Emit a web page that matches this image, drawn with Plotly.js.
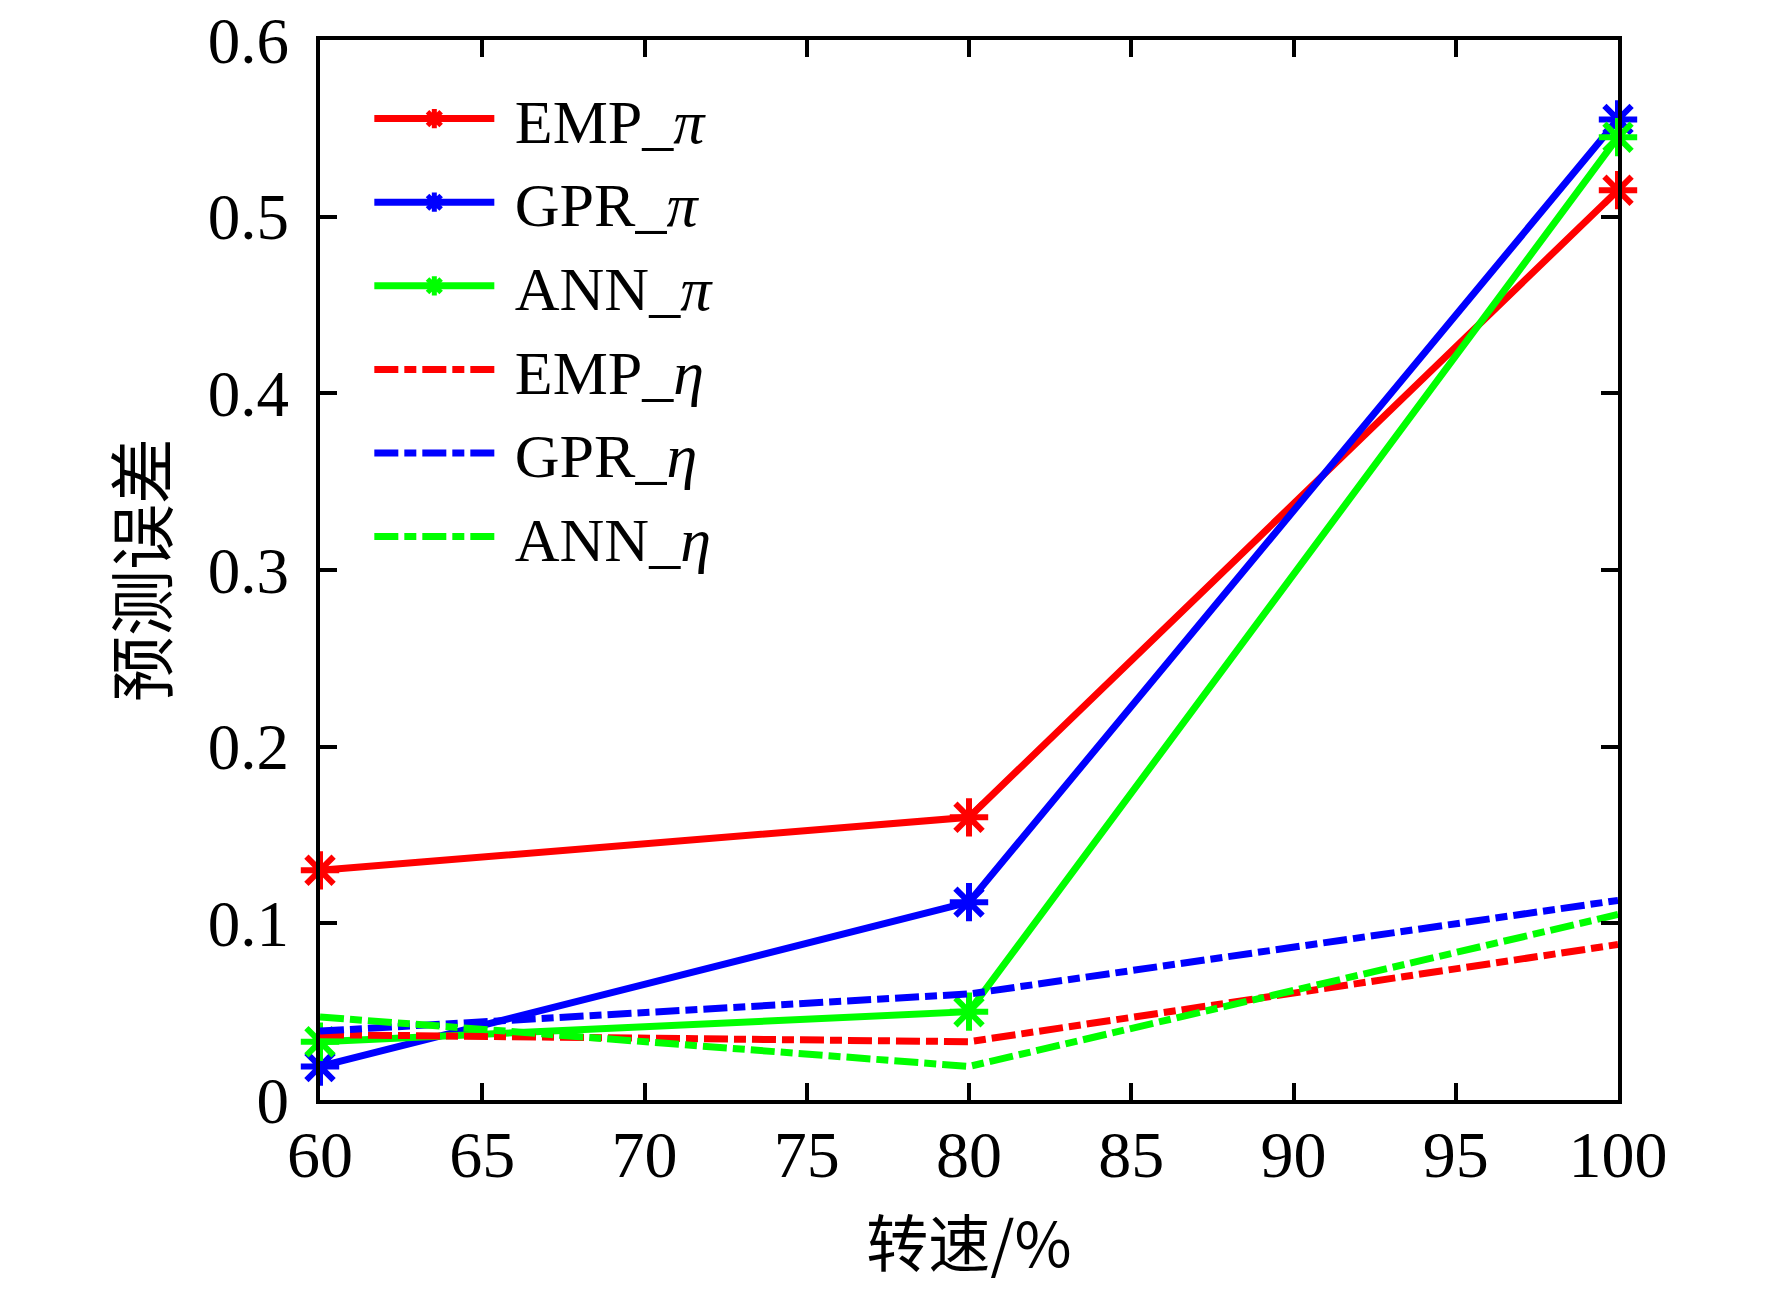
<!DOCTYPE html>
<html><head><meta charset="utf-8">
<script src="https://cdn.plot.ly/plotly-3.0.1.min.js"></script>
<style>body{margin:0;background:#fff}#c{width:1772px;height:1290px}</style>
</head><body><div id="c"></div>
<script>
const speed = [60, 80, 100];
const EMP_pi = [0.130, 0.160, 0.515];
const GPR_pi = [0.019, 0.112, 0.555];
const ANN_pi = [0.033, 0.050, 0.545];
const EMP_eta = [0.037, 0.033, 0.088];
const GPR_eta = [0.039, 0.060, 0.113];
const ANN_eta = [0.047, 0.019, 0.105];
const names = ['EMP_<i>π</i>','GPR_<i>π</i>','ANN_<i>π</i>','EMP_<i>η</i>','GPR_<i>η</i>','ANN_<i>η</i>'];
const xTicks = [60,65,70,75,80,85,90,95,100];
const yTicks = [0,0.1,0.2,0.3,0.4,0.5,0.6];
const yTickText = ['0','0.1','0.2','0.3','0.4','0.5','0.6'];

const red='#ff0000', blue='#0000ff', green='#00ff00';
const dd = '24px,6px,12px,6px';
const pad = '\u00A0';
function solid(y,c,n){return {x:speed,y:y,name:pad+n,mode:'lines+markers',type:'scatter',
  line:{color:c,width:7},marker:{symbol:'asterisk-open',size:32,color:c,line:{color:c,width:6}},cliponaxis:false};}
function dash(y,c,n){return {x:speed,y:y,name:pad+n,mode:'lines',type:'scatter',
  line:{color:c,width:7,dash:dd},cliponaxis:false};}
const data=[solid(EMP_pi,red,names[0]),solid(GPR_pi,blue,names[1]),solid(ANN_pi,green,names[2]),
  dash(EMP_eta,red,names[3]),dash(GPR_eta,blue,names[4]),dash(ANN_eta,green,names[5])];
const font='"Liberation Serif","Times New Roman",serif';
const cjk='"Noto Sans CJK SC",sans-serif';
const layout={
  width:1772,height:1290,margin:{l:320,r:154,t:40,b:190},
  paper_bgcolor:'#fff',plot_bgcolor:'#fff',
  font:{family:font,size:60,color:'#000'},
  showlegend:true,
  legend:{x:0.038,y:0.97,xanchor:'left',yanchor:'top',bgcolor:'rgba(0,0,0,0)',font:{family:font,size:62},itemwidth:120,tracegroupgap:0},
  xaxis:{range:[60,100],tickvals:xTicks,ticks:'inside',ticklen:17,tickwidth:4,tickcolor:'#000',
    showline:true,linewidth:4,linecolor:'#000',mirror:'ticks',showgrid:false,zeroline:false,
    tickfont:{family:font,size:66},ticklabeloverflow:'allow',ticklabelstandoff:-6,
    title:{text:'转速/%',font:{family:cjk,size:62},standoff:34}},
  yaxis:{range:[0,0.6],tickvals:yTicks,ticktext:yTickText,ticks:'inside',ticklen:17,tickwidth:4,tickcolor:'#000',
    showline:true,linewidth:4,linecolor:'#000',mirror:'ticks',showgrid:false,zeroline:false,
    tickfont:{family:font,size:65},ticklabelstandoff:14,ticklabeloverflow:'allow',
    title:{text:'预测误差',font:{family:cjk,size:66},standoff:20}}
};
Plotly.newPlot('c',data,layout,{displayModeBar:false,staticPlot:true});
</script></body></html>
